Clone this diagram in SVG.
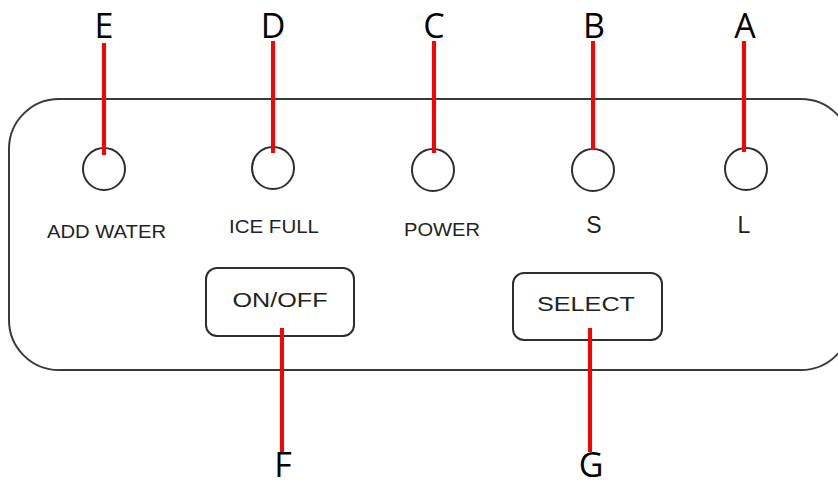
<svg xmlns="http://www.w3.org/2000/svg" width="838" height="486" viewBox="0 0 838 486">
<style>
.panel{fill:#fff;stroke:#3a3a3a;stroke-width:2}
.led{fill:#fff;stroke:#2e2e2e;stroke-width:2}
.btn{fill:#fff;stroke:#2e2e2e;stroke-width:2}
.lbl{font-family:"Liberation Sans",Arial,sans-serif;fill:#222;text-anchor:middle}
.letter{font-family:"Open Sans","Liberation Sans",sans-serif;font-size:34px;fill:#000;text-anchor:middle}
.lead{stroke:#f00;stroke-width:4;fill:none}
</style>
<rect width="838" height="486" fill="#fff"/>
<rect id="panel" class="panel" x="9" y="99" width="842" height="271" rx="50" ry="50"/>
<g id="ledE"><circle class="led" cx="104" cy="169" r="21"/><text class="lbl" x="106.5" y="238" font-size="18" textLength="119" lengthAdjust="spacingAndGlyphs">ADD WATER</text></g>
<g id="ledD"><circle class="led" cx="273" cy="168" r="21"/><text class="lbl" x="274" y="233" font-size="18" textLength="90" lengthAdjust="spacingAndGlyphs">ICE FULL</text></g>
<g id="ledC"><circle class="led" cx="433" cy="170" r="21"/><text class="lbl" x="442" y="236" font-size="18" textLength="76" lengthAdjust="spacingAndGlyphs">POWER</text></g>
<g id="ledB"><circle class="led" cx="593" cy="170" r="21"/><text class="lbl" x="594" y="233" font-size="23">S</text></g>
<g id="ledA"><circle class="led" cx="746" cy="169" r="21"/><text class="lbl" x="744" y="233" font-size="23">L</text></g>
<g id="btnF"><rect class="btn" x="206" y="268" width="148" height="68" rx="11"/><text class="lbl" x="280" y="307" font-size="20.5" textLength="95" lengthAdjust="spacingAndGlyphs">ON/OFF</text></g>
<g id="btnG"><rect class="btn" x="513" y="273" width="149" height="67" rx="11"/><text class="lbl" x="586" y="311" font-size="20.5" textLength="98" lengthAdjust="spacingAndGlyphs">SELECT</text></g>
<g id="connectors">
<line class="lead" x1="104" y1="43" x2="104" y2="155"/>
<line class="lead" x1="273" y1="41" x2="273" y2="153"/>
<line class="lead" x1="434" y1="41" x2="434" y2="153"/>
<line class="lead" x1="593" y1="41" x2="593" y2="150"/>
<line class="lead" x1="744" y1="41" x2="744" y2="152"/>
<line class="lead" x1="282" y1="328" x2="282" y2="452"/>
<line class="lead" x1="590" y1="328" x2="590" y2="452"/>
</g>
<g id="letters">
<text class="letter" x="104" y="38">E</text>
<text class="letter" x="273" y="38">D</text>
<text class="letter" x="434" y="38">C</text>
<text class="letter" x="594" y="38">B</text>
<text class="letter" x="745" y="38">A</text>
<text class="letter" x="283" y="477" font-size="33">F</text>
<text class="letter" x="591" y="477" font-size="33">G</text>
</g>
</svg>
